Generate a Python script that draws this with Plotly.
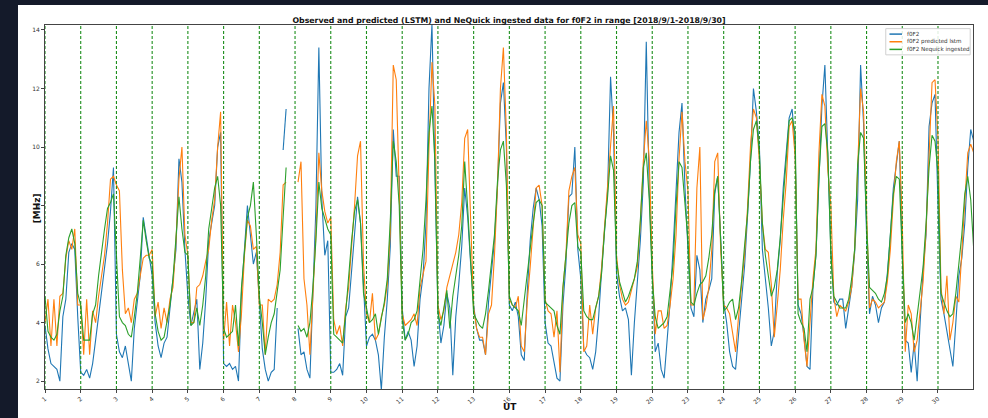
import plotly.graph_objects as go

# Day labels at each day start (days 14-15 and 21-22 are missing in the data)
day_labels = [1, 2, 3, 4, 5, 6, 7, 8, 9, 10, 11, 12, 13, 16, 17, 18, 19, 20,
              23, 24, 25, 26, 27, 28, 29, 30]

# 2-hourly samples (12 per day), MHz
f0f2_obs = [
    3.9, 3.1, 2.6, 2.5, 2.4, 2.0, 4.2, 4.8, 6.4, 6.7, 6.5, 4.2,
    2.3, 2.2, 2.4, 2.1, 2.6, 3.4, 4.2, 5.0, 5.8, 6.7, 7.8, 9.3,
    3.6, 3.0, 2.8, 3.2, 2.6, 2.0, 3.8, 4.8, 5.6, 7.6, 6.9, 6.2,
    5.6, 4.0, 3.2, 2.8, 3.3, 3.5, 4.5, 5.4, 6.5, 9.6, 8.8, 6.5,
    4.9, 3.9, 4.3, 4.8, 2.4, 3.3, 4.8, 6.8, 7.4, 8.0, 10.0, 10.5,
    2.6, 2.5, 2.6, 2.4, 2.5, 2.0, 5.0, 6.5, 8.0, 7.0, 6.0, 6.4,
    4.7, 3.1, 2.4, 2.0, 2.3, 2.4, 4.5, None, 9.9, 11.3, None, None,
    None, 3.8, 2.9, 3.0, 2.4, 2.1, 4.9, 7.9, 13.4, 8.2, 6.3, 6.8,
    2.3, 2.3, 2.4, 2.6, 2.2, 4.2, 4.5, 5.8, 7.2, 8.3, 7.4, 5.0,
    3.2, 3.5, 3.6, 3.4, 2.9, 1.7, 3.5, 4.8, 6.6, 10.6, 9.0, 9.0,
    4.5, 3.4, 3.7, 3.4, 2.5, 3.2, 4.8, 5.6, 7.4, 12.0, 14.2, 9.1,
    4.5, 3.3, 3.9, 5.0, 4.5, 2.2, 4.2, 5.3, 6.6, 8.6, 7.6, 6.0,
    4.6, 3.8, 3.4, 3.4, 2.9, 4.7, 5.8, 6.8, 8.6, 11.5, 12.2, 10.0,
    4.6, 4.4, 4.7, 4.2, 2.9, 2.7, 5.0, 6.8, 7.9, 8.6, 8.2, 7.3,
    4.0, 3.3, 3.2, 2.6, 2.1, 2.0, 4.6, 6.0, 8.3, 8.4, 10.0, 6.5,
    5.5, 3.1, 2.9, 2.8, 2.4, 3.0, 4.2, 5.8, 7.0, 8.5, 12.4, 10.5,
    5.7, 4.9, 4.4, 4.5, 4.1, 2.2, 4.0, 5.4, 6.8, 8.8, 13.6, 8.5,
    5.7, 3.0, 3.3, 2.4, 2.1, 3.5, 4.7, 6.5, 8.5, 10.5, 11.5, 8.6,
    6.5, 4.5, 4.2, 6.3, 5.8, 4.0, 4.8, 5.1, 5.5, 8.4, 9.0, 6.6,
    4.7, 4.0, 3.0, 2.5, 2.4, 3.6, 4.8, 5.9, 7.6, 9.5, 12.0, 11.2,
    10.0, 6.5, 5.5, 4.5, 3.2, 3.7, 5.7, 6.8, 8.6, 9.7, 11.0, 11.3,
    10.0, 4.6, 4.3, 3.5, 2.5, 2.4, 5.2, 6.3, 8.8, 11.4, 12.8, 9.5,
    6.5, 4.7, 4.6, 4.8, 4.8, 3.8, 4.5, 5.2, 6.4, 8.2, 12.8, 10.8,
    7.0, 4.3, 4.9, 4.6, 4.0, 4.5, 4.7, 5.7, 7.0, 8.6, 9.4, 10.2,
    6.3, 3.4, 3.3, 2.3, 3.3, 2.0, 4.0, 5.8, 7.0, 10.7, 11.5, 11.8,
    8.0, 4.8, 4.3, 3.7, 3.0, 2.5, 4.0, 5.6, 6.2, 7.4, 9.3, 10.6, 10.2,
]

f0f2_lstm = [
    4.0, 4.8, 3.2, 4.8, 3.2, 4.9, 5.0, 6.2, 6.8, 6.5, 7.2, 4.6,
    4.6, 2.9, 4.8, 2.9, 4.4, 4.0, 4.9, 5.6, 6.3, 7.4, 8.9, 9.0,
    8.7, 8.5, 5.8, 4.3, 4.5, 4.0, 4.8, 5.0, 5.6, 6.2, 6.3, 6.3,
    6.5, 4.2, 4.7, 3.8, 4.5, 4.0, 4.8, 5.2, 6.8, 8.9, 10.0, 7.0,
    6.3, 4.0, 4.0, 5.2, 5.3, 5.6, 6.1, 6.5, 7.5, 8.2, 10.0, 11.2,
    3.4, 4.7, 3.2, 4.6, 4.0, 3.0, 4.3, 6.3, 7.5, 7.3, 6.5, 6.6,
    4.6, 4.6, 2.9, 4.8, 4.7, 4.8, 5.3, 6.4, 8.7, 8.8, None, None,
    None, 8.8, 9.5, 5.5, 4.6, 2.9, 4.8, 7.0, 9.8, 8.5, 7.8, 7.4,
    7.6, 4.1, 3.6, 3.9, 3.2, 4.5, 5.2, 6.5, 8.0, 9.7, 10.2, 6.0,
    4.3, 4.0, 5.0, 3.4, 3.6, 4.2, 4.6, 5.3, 7.1, 12.8, 12.3, 8.5,
    4.3, 3.9, 4.0, 4.1, 4.3, 3.9, 5.2, 5.7, 6.1, 10.0, 12.9, 11.4,
    4.6, 4.1, 4.4, 5.2, 5.6, 6.0, 6.4, 7.0, 8.1, 10.3, 10.6, 7.5,
    4.5, 3.8, 3.5, 3.5, 2.9, 4.3, 4.6, 6.3, 8.6, 12.0, 13.4, 10.5,
    4.8, 4.6, 4.5, 4.9, 3.2, 3.0, 4.7, 5.9, 7.4, 8.6, 8.7, 8.0,
    4.8, 4.4, 4.3, 3.5, 4.4, 2.3, 5.2, 6.3, 8.5, 9.0, 9.3, 7.0,
    6.7, 3.0, 3.2, 4.6, 3.6, 4.5, 4.9, 5.9, 7.3, 8.7, 10.0, 11.4,
    6.3, 5.3, 4.8, 4.6, 4.7, 5.1, 5.4, 5.9, 7.4, 9.5, 10.9, 9.6,
    6.0, 3.6, 4.4, 4.4, 3.8, 3.9, 4.6, 5.5, 7.0, 9.6, 11.2, 9.5,
    8.5, 4.6, 4.6, 8.6, 10.0, 4.1, 4.5, 5.2, 6.5, 9.5, 9.8, 6.5,
    4.6, 4.5, 4.3, 3.6, 3.0, 4.2, 5.2, 6.3, 7.9, 10.0, 11.3, 11.0,
    9.5, 7.4, 6.5, 6.4, 5.3, 3.5, 4.6, 5.8, 7.5, 8.8, 10.7, 10.9,
    9.7, 4.8, 4.8, 3.4, 2.5, 4.0, 5.5, 6.5, 9.8, 11.8, 11.4, 9.2,
    8.0, 4.9, 4.2, 4.6, 4.5, 4.4, 4.7, 5.2, 6.5, 9.0, 12.0, 11.2,
    8.0, 4.5, 4.8, 4.7, 4.5, 4.6, 4.7, 5.4, 6.5, 8.2, 9.5, 10.2,
    7.4, 3.0, 4.6, 4.3, 3.0, 3.4, 4.3, 5.4, 7.2, 9.7, 12.2, 12.3,
    10.3, 5.2, 4.3, 5.6, 3.4, 4.0, 4.9, 4.7, 6.4, 8.0, 9.8, 10.1, 9.8,
]

f0f2_nequick = [
    4.9, 3.7, 3.5, 3.4, 3.6, 4.4, 4.9, 6.3, 6.9, 7.2, 6.7, 5.0,
    4.6, 3.4, 3.4, 3.4, 4.3, 4.6, 5.6, 6.5, 7.2, 7.9, 8.1, 8.4,
    6.5, 4.2, 4.0, 3.9, 3.6, 3.5, 4.2, 5.0, 6.2, 7.5, 6.8, 6.2,
    6.0, 4.3, 3.7, 3.4, 3.5, 4.0, 4.6, 5.5, 6.9, 8.3, 7.2, 6.4,
    6.3, 3.9, 4.0, 4.5, 3.9, 4.6, 5.6, 7.2, 7.9, 8.6, 9.0, 8.0,
    3.8, 3.5, 3.6, 3.7, 4.6, 3.2, 5.2, 6.5, 7.6, 8.0, 8.8, 7.0,
    4.9, 4.0, 2.9, 3.5, 4.0, 4.3, 5.0, 5.8, 7.6, 9.3, None, None,
    None, 3.9, 3.7, 3.8, 3.5, 4.0, 5.2, 6.8, 8.8, 7.9, 7.5, 7.2,
    7.0, 3.6, 3.5, 3.4, 3.3, 4.3, 5.6, 6.8, 7.8, 8.2, 7.4, 5.0,
    4.5, 4.0, 4.1, 4.3, 3.6, 4.1, 4.7, 5.5, 7.5, 10.2, 9.5, 8.0,
    4.1, 3.4, 3.6, 4.0, 4.1, 4.4, 5.4, 6.5, 8.2, 10.5, 11.4, 9.5,
    4.3, 3.9, 4.5, 5.1, 3.8, 4.9, 5.6, 6.3, 7.3, 9.5, 7.9, 6.0,
    4.3, 4.1, 3.9, 3.8, 4.3, 5.1, 6.1, 7.0, 8.8, 9.9, 10.2, 8.7,
    4.9, 4.6, 4.5, 4.4, 3.9, 4.8, 5.6, 6.5, 7.4, 8.1, 8.2, 8.0,
    4.7, 4.6, 4.5, 4.4, 3.9, 3.6, 5.2, 6.3, 7.4, 8.0, 8.1, 6.6,
    6.4, 4.4, 4.2, 4.1, 4.1, 4.5, 4.9, 5.7, 7.2, 8.3, 9.7, 9.2,
    6.1, 5.4, 5.0, 4.7, 4.9, 5.2, 5.5, 6.1, 7.5, 9.3, 9.8, 8.2,
    5.5, 4.2, 3.8, 3.9, 4.0, 4.2, 5.2, 6.0, 8.0, 9.5, 9.3, 8.0,
    6.8, 4.7, 4.6, 5.0, 5.3, 5.4, 5.6, 6.2, 7.0, 8.5, 9.0, 6.8,
    4.4, 4.5, 4.7, 4.8, 4.1, 4.5, 5.4, 6.6, 7.7, 9.5, 10.6, 10.9,
    9.8, 7.4, 6.3, 5.6, 4.9, 5.2, 5.8, 6.9, 8.3, 9.7, 10.9, 11.0,
    10.5, 4.3, 4.0, 3.8, 3.0, 4.8, 5.2, 6.3, 9.0, 10.7, 10.8, 9.8,
    6.3, 4.9, 4.7, 4.5, 4.5, 4.5, 4.8, 5.5, 6.5, 9.4, 10.5, 10.3,
    7.4, 5.2, 5.1, 5.0, 4.8, 4.7, 5.0, 5.6, 7.0, 8.4, 9.0, 8.9,
    6.3, 4.0, 4.3, 4.0, 3.4, 4.3, 5.0, 5.9, 7.4, 9.3, 10.4, 10.2,
    9.1, 5.0, 4.7, 4.4, 4.2, 4.3, 5.0, 6.0, 7.0, 8.4, 9.0, 8.2, 6.5,
]

series_names = ["f0F2", "f0F2 predicted lstm", "f0F2 Nequick ingested"]
series_colors = ["#1f77b4", "#ff7f0e", "#2ca02c"]

SAMPLES_PER_DAY = 12
FONT = "DejaVu Sans"


def xs(series):
    return [i / SAMPLES_PER_DAY for i in range(len(series))]


fig = go.Figure()
for name, vals, color in zip(series_names,
                             [f0f2_obs, f0f2_lstm, f0f2_nequick],
                             series_colors):
    fig.add_trace(go.Scatter(x=xs(vals), y=vals, mode="lines", name=name,
                             line=dict(color=color, width=1.1),
                             connectgaps=False, showlegend=False))

# white figure area on the dark page
fig.add_shape(type="rect", xref="paper", yref="paper",
              x0=-0.0291, x1=1.03, y0=-0.1, y1=1.055,
              fillcolor="white", line=dict(width=0), layer="below")

# green dashed day separators
for i in range(len(day_labels)):
    fig.add_shape(type="line", xref="x", yref="paper", x0=i, x1=i, y0=0, y1=1,
                  line=dict(color="#1c8f1c", width=1.1, dash="3px,2px"),
                  layer="above")

# compact matplotlib-style legend (upper right)
fig.add_shape(type="rect", xref="paper", yref="paper",
              x0=0.906, x1=0.997, y0=0.918, y1=0.990,
              fillcolor="rgba(255,255,255,0.85)",
              line=dict(color="#d0d0d0", width=1), layer="above")
for j, (name, color) in enumerate(zip(series_names, series_colors)):
    yy = 0.975 - j * 0.021
    fig.add_shape(type="line", xref="paper", yref="paper",
                  x0=0.910, x1=0.9235, y0=yy, y1=yy,
                  line=dict(color=color, width=1.5), layer="above")
    fig.add_annotation(text=name, xref="paper", yref="paper", x=0.9265, y=yy,
                       xanchor="left", yanchor="middle", showarrow=False,
                       font=dict(family=FONT, size=5.6, color="#333"))

axis_common = dict(showgrid=False, zeroline=False, showline=True, mirror=True,
                   linecolor="#444", linewidth=1, ticks="outside", ticklen=3,
                   tickcolor="#444", tickfont=dict(family=FONT, size=6, color="#333"))

fig.update_xaxes(range=[0, 25.98], tickvals=list(range(len(day_labels))),
                 ticktext=[str(d) for d in day_labels], tickangle=-40,
                 **axis_common)
fig.update_yaxes(range=[1.73, 14.17], tickvals=[2, 4, 6, 8, 10, 12, 14],
                 **axis_common)

fig.add_annotation(text="<b>[MHz]</b>", xref="paper", yref="paper",
                   x=-0.016, y=0.497, textangle=-90, showarrow=False,
                   font=dict(family=FONT, size=9, color="#111"))
fig.add_annotation(text="<b>UT</b>", xref="paper", yref="paper",
                   x=0.501, y=-0.05, yanchor="middle", showarrow=False,
                   font=dict(family=FONT, size=9, color="#111"))

fig.update_layout(
    width=988, height=418, autosize=False,
    margin=dict(l=45, r=15, t=25, b=29),
    paper_bgcolor="#141a2a", plot_bgcolor="white",
    title=dict(text="<b>Observed and predicted (LSTM) and NeQuick ingested data for f0F2 in range [2018/9/1-2018/9/30]</b>",
               x=0.5, xref="paper", xanchor="center", y=0.952, yanchor="middle",
               font=dict(family=FONT, size=7.8, color="#111")),
    showlegend=False,
)

fig.write_html("out.html",
               config={"displayModeBar": False},
               post_script="document.body.style.margin='0';"
                           "document.body.style.background='#141a2a';")
